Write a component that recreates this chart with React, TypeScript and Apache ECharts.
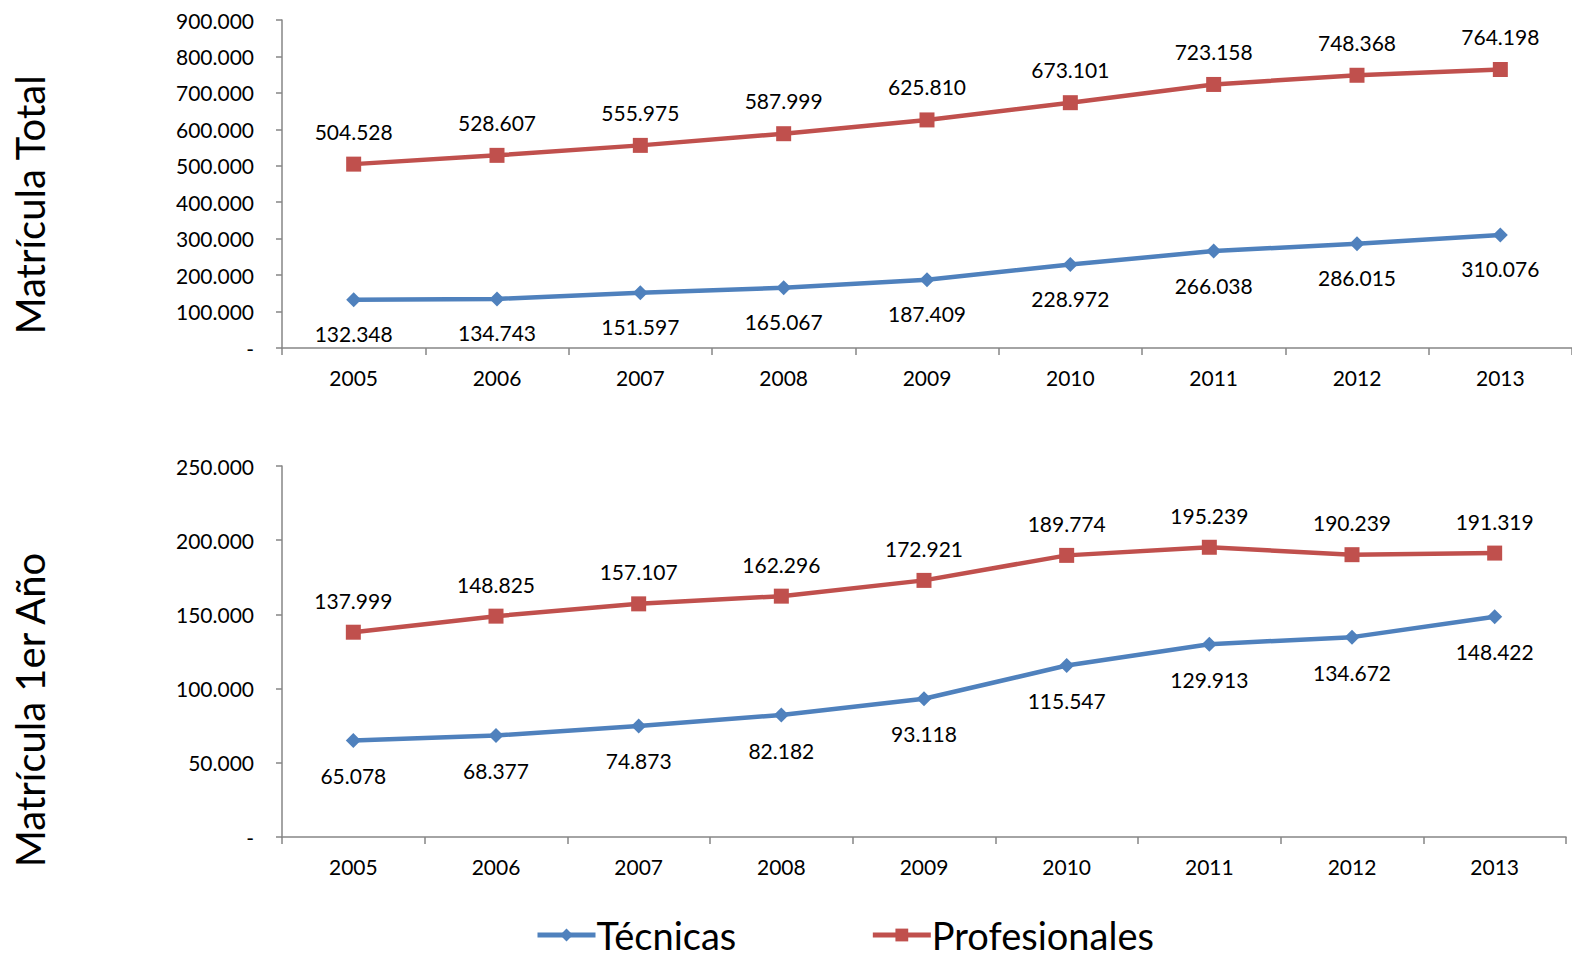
import React, { useEffect, useRef } from "react";
import * as echarts from "echarts";

const years = ["2005", "2006", "2007", "2008", "2009", "2010", "2011", "2012", "2013"];
const totalTecnicas = [132348, 134743, 151597, 165067, 187409, 228972, 266038, 286015, 310076];
const totalProfesionales = [504528, 528607, 555975, 587999, 625810, 673101, 723158, 748368, 764198];
const primerTecnicas = [65078, 68377, 74873, 82182, 93118, 115547, 129913, 134672, 148422];
const primerProfesionales = [137999, 148825, 157107, 162296, 172921, 189774, 195239, 190239, 191319];

const FONT = "Lato, 'Noto Sans', sans-serif";
const BLUE = "#4F81BD";
const RED = "#C0504D";
const AXIS = "#868686";

function fmt(v: number): string {
  if (v === 0) return "-";
  return Math.round(v).toString().replace(/\B(?=(\d{3})+(?!\d))/g, ".");
}

export default function App() {
  const ref = useRef<HTMLDivElement>(null);
  useEffect(() => {
    if (!ref.current) return;
    const chart = echarts.init(ref.current, undefined, { renderer: "svg" });
    const xAxisBase = (gridIndex: number) => ({
      type: "category" as const,
      gridIndex,
      data: years,
      boundaryGap: true,
      axisLine: { lineStyle: { color: AXIS, width: 1.5 } },
      axisTick: { show: true, length: 7, lineStyle: { color: AXIS, width: 1.5 } },
      axisLabel: { color: "#000", fontSize: 21, fontFamily: FONT, margin: 19 },
      splitLine: { show: false },
    });
    const yAxisBase = (gridIndex: number, max: number, interval: number) => ({
      type: "value" as const,
      gridIndex,
      min: 0,
      max,
      interval,
      axisLine: { show: true, lineStyle: { color: AXIS, width: 1.5 } },
      axisTick: { show: true, length: 6, lineStyle: { color: AXIS, width: 1.5 } },
      axisLabel: {
        color: "#000",
        fontSize: 21,
        fontFamily: FONT,
        margin: 28,
        formatter: (v: number) => fmt(v),
      },
      splitLine: { show: false },
    });
    const lineSeries = (
      name: string,
      data: number[],
      idx: number,
      color: string,
      symbol: string,
      symbolSize: number,
      pos: "top" | "bottom",
      distance: number
    ) => ({
      name,
      type: "line" as const,
      xAxisIndex: idx,
      yAxisIndex: idx,
      data,
      symbol,
      symbolSize,
      showAllSymbol: true,
      lineStyle: { color, width: 4.5 },
      itemStyle: { color },
      label: {
        show: true,
        position: pos,
        distance,
        color: "#000",
        fontSize: 21,
        fontFamily: FONT,
        formatter: (p: any) => fmt(p.value),
      },
    });
    chart.setOption({
      animation: false,
      backgroundColor: "#fff",
      textStyle: { fontFamily: FONT },
      grid: [
        { left: 282, top: 20, width: 1292, height: 328 },
        { left: 282, top: 466, width: 1284, height: 371 },
      ],
      xAxis: [xAxisBase(0), xAxisBase(1)],
      yAxis: [yAxisBase(0, 900000, 100000), yAxisBase(1, 250000, 50000)],
      legend: {
        data: ["Técnicas", "Profesionales"],
        left: 535,
        top: 915,
        padding: 0,
        itemWidth: 58,
        itemHeight: 16,
        itemGap: 134,
        lineStyle: { width: 5 },
        textStyle: {
          fontSize: 38,
          lineHeight: 40,
          fontFamily: FONT,
          color: "#000",
          padding: [0, 0, 0, -4],
        },
      },
      graphic: [
        {
          type: "text",
          x: 30,
          y: 205,
          rotation: Math.PI / 2,
          style: {
            text: "Matrícula Total",
            fontSize: 40,
            fontFamily: FONT,
            fill: "#000",
            align: "center",
            verticalAlign: "middle",
          },
        },
        {
          type: "text",
          x: 30,
          y: 710,
          rotation: Math.PI / 2,
          style: {
            text: "Matrícula 1er Año",
            fontSize: 40,
            fontFamily: FONT,
            fill: "#000",
            align: "center",
            verticalAlign: "middle",
          },
        },
      ],
      series: [
        lineSeries("Técnicas", totalTecnicas, 0, BLUE, "diamond", 15, "bottom", 16),
        lineSeries("Profesionales", totalProfesionales, 0, RED, "rect", 15, "top", 15),
        lineSeries("Técnicas", primerTecnicas, 1, BLUE, "diamond", 15, "bottom", 17),
        lineSeries("Profesionales", primerProfesionales, 1, RED, "rect", 15, "top", 14),
      ],
    });
    return () => chart.dispose();
  }, []);
  return (
    <div
      ref={ref}
      style={{ position: "fixed", left: 0, top: 0, width: 1572, height: 958, background: "#fff" }}
    />
  );
}
